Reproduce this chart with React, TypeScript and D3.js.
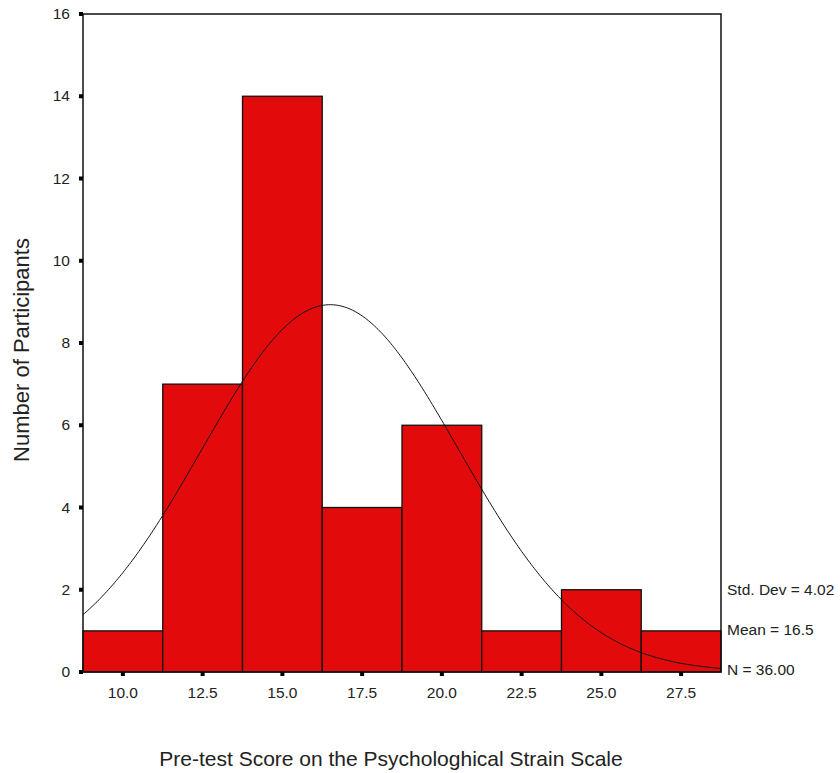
import * as d3 from 'd3';
import React, { useEffect, useRef } from 'react';

// bin centres and counts
const binCenters = [10.0, 12.5, 15.0, 17.5, 20.0, 22.5, 25.0, 27.5];
const counts = [1, 7, 14, 4, 6, 1, 2, 1];
const yTicks = [0, 2, 4, 6, 8, 10, 12, 14, 16];
const statLabels = ['Std. Dev = 4.02', 'Mean = 16.5', 'N = 36.00'];
const stdDev = 4.02;
const mean = 16.5;
const total = 36;
const binWidth = 2.5;

const App = () => {
  const ref = useRef<SVGSVGElement>(null);

  useEffect(() => {
    const svg = d3.select(ref.current);
    svg.selectAll('*').remove();

    const left = 83, right = 721, top = 14, bottom = 672;
    const font = 'Liberation Sans, Arial, sans-serif';

    const x = d3.scaleLinear()
      .domain([binCenters[0] - binWidth / 2, binCenters[binCenters.length - 1] + binWidth / 2])
      .range([left, right]);
    const y = d3.scaleLinear().domain([0, 16]).range([bottom, top]);

    // bars
    svg.append('g')
      .selectAll('rect')
      .data(binCenters)
      .enter()
      .append('rect')
      .attr('x', d => x(d - binWidth / 2))
      .attr('width', d => x(d + binWidth / 2) - x(d - binWidth / 2))
      .attr('y', (d, i) => y(counts[i]))
      .attr('height', (d, i) => y(0) - y(counts[i]))
      .attr('fill', '#e20a0a')
      .attr('stroke', '#111')
      .attr('stroke-width', 1.3);

    // fitted normal curve from the stated mean / sd
    const scaleFactor = total * binWidth / (stdDev * Math.sqrt(2 * Math.PI));
    const xs = d3.range(x.domain()[0], x.domain()[1] + 0.001, 0.05);
    const line = d3.line<number>()
      .x(d => x(d))
      .y(d => y(scaleFactor * Math.exp(-0.5 * Math.pow((d - mean) / stdDev, 2))))
      .curve(d3.curveBasis);
    svg.append('path')
      .datum(xs)
      .attr('d', line)
      .attr('fill', 'none')
      .attr('stroke', '#111')
      .attr('stroke-width', 1);

    // frame
    svg.append('rect')
      .attr('x', left).attr('y', top)
      .attr('width', right - left).attr('height', bottom - top)
      .attr('fill', 'none')
      .attr('stroke', '#111')
      .attr('stroke-width', 1.5);

    // y ticks
    const yg = svg.append('g');
    yg.selectAll('rect')
      .data(yTicks)
      .enter()
      .append('rect')
      .attr('x', left - 4)
      .attr('y', d => y(d) - 2)
      .attr('width', 4)
      .attr('height', 4)
      .attr('fill', '#000');
    yg.selectAll('text')
      .data(yTicks)
      .enter()
      .append('text')
      .attr('x', 70)
      .attr('y', d => y(d) + 5)
      .attr('text-anchor', 'end')
      .style('font-family', font)
      .style('font-size', '15.5px')
      .attr('fill', '#222')
      .text(d => d);

    // x ticks
    const xg = svg.append('g');
    xg.selectAll('rect')
      .data(binCenters)
      .enter()
      .append('rect')
      .attr('x', d => x(d) - 2)
      .attr('y', bottom)
      .attr('width', 4)
      .attr('height', 4)
      .attr('fill', '#000');
    xg.selectAll('text')
      .data(binCenters)
      .enter()
      .append('text')
      .attr('x', d => x(d))
      .attr('y', 698)
      .attr('text-anchor', 'middle')
      .style('font-family', font)
      .style('font-size', '15.5px')
      .attr('fill', '#222')
      .text(d => d.toFixed(1));

    // stats
    svg.append('g')
      .selectAll('text')
      .data(statLabels)
      .enter()
      .append('text')
      .attr('x', 727)
      .attr('y', (d, i) => 595 + i * 40)
      .style('font-family', font)
      .style('font-size', '15.5px')
      .attr('fill', '#222')
      .text(d => d);

    // axis titles
    svg.append('text')
      .attr('transform', 'translate(29,350) rotate(-90)')
      .attr('text-anchor', 'middle')
      .style('font-family', font)
      .style('font-size', '22px')
      .attr('fill', '#222')
      .text('Number of Participants');

    svg.append('text')
      .attr('x', 391)
      .attr('y', 766)
      .attr('text-anchor', 'middle')
      .style('font-family', font)
      .style('font-size', '21px')
      .attr('fill', '#222')
      .text('Pre-test Score on the Psychologhical Strain Scale');
  }, []);

  return (
    <svg ref={ref} width={840} height={773}
      style={{ position: 'absolute', left: 0, top: 0, background: '#fff' }} />
  );
};

export default App;
